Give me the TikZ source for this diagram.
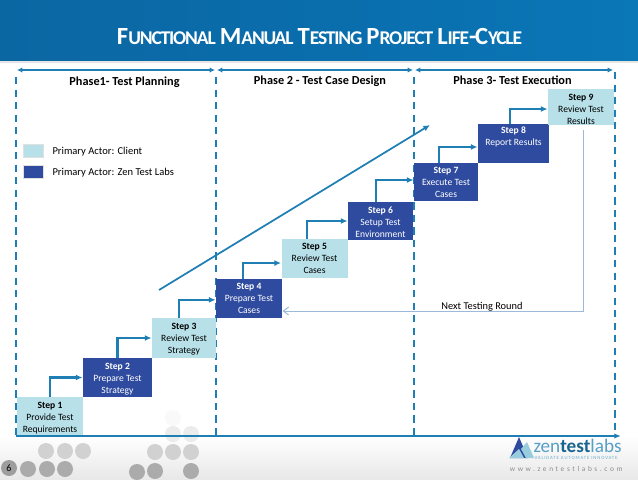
\documentclass[tikz,border=0pt]{standalone}
\usepackage{fontspec}
\setmainfont{Carlito}
\newfontfamily\titlefont[LetterSpace=-6]{Carlito}
\newfontfamily\webfont[LetterSpace=36]{Carlito}
\newfontfamily\tagfont[LetterSpace=18]{Carlito}
\usetikzlibrary{arrows.meta,shadings}

\definecolor{clientfill}{HTML}{B7E0E8}
\definecolor{zenfill}{HTML}{2F4B9F}
\definecolor{rulecolor}{HTML}{1F7FB5}
\definecolor{roundcolor}{HTML}{9DB9D9}
\definecolor{headerleft}{HTML}{0B67A2}
\definecolor{headermid}{HTML}{0A6DAC}
\definecolor{headerright}{HTML}{0A77B7}

\tikzset{every picture/.style={line width=0.75pt}}
\tikzset{
	stepbox/.style={inner sep=0pt,align=center,font=\fontsize{7.2}{9}\selectfont},
	clientbox/.style={stepbox,fill=clientfill,text=black},
	zenbox/.style={stepbox,fill=zenfill,text=white},
	steparrow/.style={rulecolor,line width=1.6pt,-{Latex[length=5pt,width=4.5pt]}},
	spanarrow/.style={rulecolor,line width=1.1pt,{Latex[length=4pt,width=4pt]}-{Latex[length=4pt,width=4pt]}},
	phaseline/.style={rulecolor,line width=1.3pt,dash pattern=on 5.4pt off 4pt},
	phasetext/.style={inner sep=0pt,font=\bfseries\fontsize{9.2}{11}\selectfont},
	legendtext/.style={inner sep=0pt,anchor=west,font=\fontsize{7.9}{9}\selectfont},
	dotlight/.style={fill=black!18,draw=none},
	dotdark/.style={fill=black!33,draw=none},
}

\begin{document}
\begin{tikzpicture}[x=0.75pt,y=0.75pt,yscale=-1,xscale=1]
	\useasboundingbox (0,0) rectangle (638,479);

	%Shape: Background
	\fill[white] (0,0) rectangle (638,479);
	\shade[top color=white,bottom color=black!9] (0,436) rectangle (638,479);
	%Shape: Header
	\shade[left color=headerleft,right color=headerright,middle color=headermid] (0,0) rectangle (638,61);
	\fill[black!10] (0,61) rectangle (638,63);

	%Shape: Dots
	\foreach \cx/\cy in {46/451,65/451,83/451,155/452,173/452,191/452}
		\fill[dotlight] (\cx,\cy) circle (8);
	\foreach \cx/\cy in {28/469,47/469,65/469,137/472,155/471,191/471}
		\fill[dotdark] (\cx,\cy) circle (8);
	\foreach \cx/\cy in {173/434,191/434}
		\fill[dotlight,opacity=0.4] (\cx,\cy) circle (8);
	\fill[dotlight,opacity=0.12] (173,418) circle (8);

	% Text Node
	\node (title) [inner sep=0pt,text=white] at (319.5,36) {\titlefont\bfseries\fontsize{18.5}{20}\selectfont F{\fontsize{14.6}{20}\selectfont UNCTIONAL} M{\fontsize{14.6}{20}\selectfont ANUAL} T{\fontsize{14.6}{20}\selectfont ESTING} P{\fontsize{14.6}{20}\selectfont ROJECT} L{\fontsize{14.6}{20}\selectfont IFE}-C{\fontsize{14.6}{20}\selectfont YCLE}};

	%Dashed phase lines
	\draw[phaseline] (16,77) -- (16,436);
	\draw[phaseline] (216,77) -- (216,436);
	\draw[phaseline] (414,77) -- (414,436);
	\draw[phaseline] (615,72) -- (615,436);

	%Span arrows
	\draw[spanarrow] (17,70) -- (215,70);
	\draw[spanarrow] (217,70) -- (413,70);
	\draw[spanarrow] (415,70) -- (613,70);
	\draw[rulecolor,line width=1.3pt,-{Latex[length=5pt,width=4pt]}] (16,436) -- (621,436);

	% Text Node
	\node (phase1) [phasetext] at (124.5,82) {Phase1- Test Planning};
	% Text Node
	\node (phase2) [phasetext] at (320,81) {Phase 2 - Test Case Design};
	% Text Node
	\node (phase3) [phasetext] at (512.5,80) {Phase 3- Test Execution};

	%Legend
	\node (keyclient) [fill=clientfill,draw=black!12,minimum width=15pt,minimum height=9.5pt,inner sep=0pt] at (33.5,151) {};
	\node (keyzen) [fill=zenfill,draw=black!12,minimum width=15pt,minimum height=9.5pt,inner sep=0pt] at (33.5,172) {};
	\node (keyclienttext) [legendtext] at (52,152) {Primary Actor: Client};
	\node (keyzentext) [legendtext] at (52,172.5) {Primary Actor: Zen Test Labs};

	%Steps
	\node (step1) [clientbox,minimum width=49.5pt,minimum height=28.5pt] at (50,416) {\rule{0pt}{8pt}\textbf{Step 1}\\Provide Test\\Requirements};
	\node (step2) [zenbox,minimum width=51.75pt,minimum height=29.25pt] at (117.5,377.5) {\rule{0pt}{6.5pt}\textbf{Step 2}\\Prepare Test\\Strategy};
	\node (step3) [clientbox,minimum width=48pt,minimum height=30pt] at (184,338) {\rule{0pt}{7pt}\textbf{Step 3}\\Review Test\\Strategy};
	\node (step4) [zenbox,minimum width=49.5pt,minimum height=29.25pt] at (249,298.5) {\textbf{Step 4}\\Prepare Test\\Cases};
	\node (step5) [clientbox,minimum width=49.5pt,minimum height=29.25pt] at (314.5,258.5) {\textbf{Step 5}\\Review Test\\Cases};
	\node (step6) [zenbox,minimum width=48.75pt,minimum height=28.5pt] at (380.5,221) {\rule{0pt}{6.5pt}\textbf{Step 6}\\Setup Test\\Environment};
	\node (step7) [zenbox,minimum width=48pt,minimum height=28.5pt] at (446,182) {\textbf{Step 7}\\Execute Test\\Cases};
	\node (step8) [zenbox,minimum width=53.25pt,minimum height=29.25pt] at (513.5,143.5) {\textbf{Step 8}\\Report Results\\[2.5pt]};
	\node (step9) [clientbox,minimum width=49.5pt,minimum height=27pt] at (581,107) {\rule{0pt}{8pt}\textbf{Step 9}\\Review Test\\Results};

	%Step arrows
	\draw[steparrow] (step1.north) |- (step2.west);
	\draw[steparrow] (step2.north) |- (step3.west);
	\draw[steparrow] ([xshift=-3.75pt]step3.north) |- ([yshift=1pt]step4.west);
	\draw[steparrow] ([xshift=-4.5pt]step4.north) |- ([yshift=3.4pt]step5.west);
	\draw[steparrow] ([xshift=-5.5pt]step5.north) |- (step6.west);
	\draw[steparrow] ([xshift=-3.4pt]step6.north) |- ([yshift=-1.5pt]step7.west);
	\draw[steparrow] ([xshift=-5.2pt]step7.north) |- ([yshift=2.6pt]step8.west);
	\draw[steparrow] ([xshift=-2.6pt]step8.north) |- ([yshift=1.5pt]step9.west);

	%Long arrow
	\coordinate (risestart) at (159,290);
	\coordinate (riseend) at (430,125);
	\draw[rulecolor,line width=1.3pt,-{Latex[length=5pt,width=4.5pt]}] (risestart) -- (riseend);

	%Next round arrow
	\coordinate (nextstart) at (583,130);
	\coordinate (nextcorner) at (583,311);
	\draw[roundcolor,line width=0.75pt,-{Straight Barb[length=4pt,width=6pt]}] (nextstart) -- (nextcorner) -- (step4.east |- nextcorner);
	% Text Node
	\node (nextlabel) [inner sep=0pt,font=\fontsize{7.8}{9}\selectfont] at (482,306.5) {Next Testing Round};

	% Text Node
	\node (pagenumber) [circle,fill=black!38,minimum size=12pt,inner sep=0pt,font=\fontsize{7.5}{9}\selectfont] at (9,468) {6};

	%Logo
	\fill[zenfill] (519,437) -- (510,458) -- (528,458) -- cycle;
	\fill[clientfill!80!rulecolor] (509,458) -- (519,449) -- (524,458) -- cycle;
	\fill[clientfill!80!rulecolor] (521,449) -- (527,442) -- (534,458) -- (526,458) -- cycle;
	\node (logoname) [inner sep=0pt,anchor=west,text=rulecolor!75,font=\fontsize{14.4}{15}\selectfont] at (533,446) {zen\textbf{\textcolor{rulecolor!80!black}{test}}labs};
	\node (logotag) [inner sep=0pt,anchor=west,text=rulecolor!65,font=\tagfont\fontsize{3.6}{4}\selectfont] at (534,457.5) {VALIDATE AUTOMATE INNOVATE};
	\node (logoweb) [inner sep=0pt,anchor=east,text=black!45,font=\webfont\fontsize{5.5}{6}\selectfont] at (623,469) {www.zentestlabs.com};
\end{tikzpicture}
\end{document}
